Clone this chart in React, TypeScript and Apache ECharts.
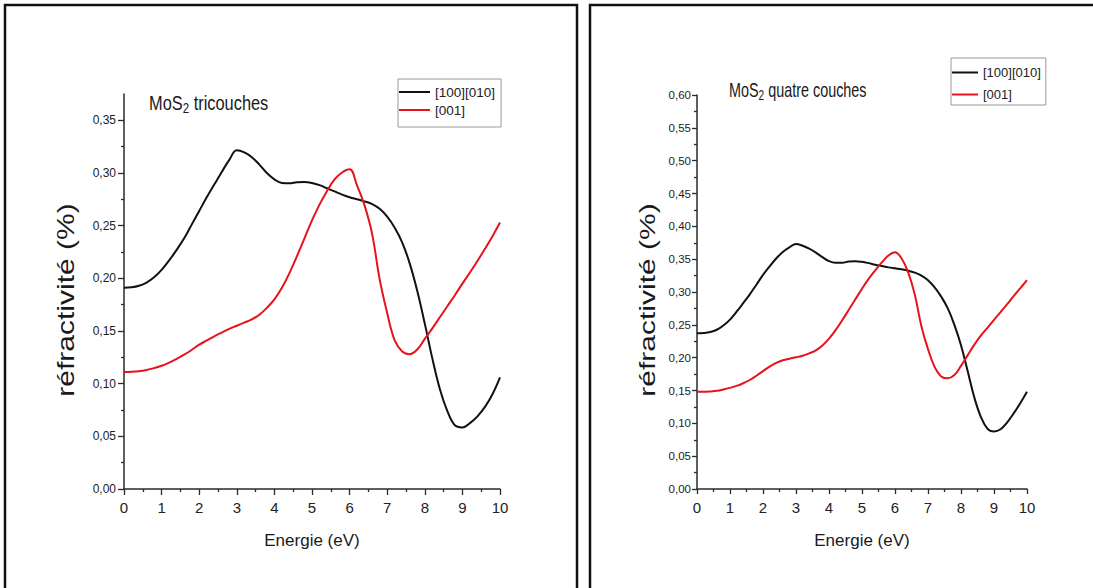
import React, { useEffect, useRef } from 'react';
import * as echarts from 'echarts';

// ---------- Energy grid (eV) at which the curves were read ----------
const energy = [0, 0.2, 0.4, 0.6, 0.8, 1, 1.2, 1.4, 1.6, 1.8, 2, 2.2, 2.4, 2.6, 2.8, 3, 3.2, 3.4, 3.6, 3.8, 4, 4.2, 4.4, 4.6, 4.8, 5, 5.2, 5.4, 5.6, 5.8, 6, 6.2, 6.4, 6.6, 6.8, 7, 7.2, 7.4, 7.6, 7.8, 8, 8.2, 8.4, 8.6, 8.8, 9, 9.2, 9.4, 9.6, 9.8, 10];

// ---------- MoS2 tricouches (left panel) ----------
const triBlack = [0.191, 0.1915, 0.193, 0.196, 0.201, 0.208, 0.217, 0.227, 0.238, 0.251, 0.264, 0.277, 0.289, 0.301, 0.3125, 0.3215, 0.3195, 0.315, 0.308, 0.3, 0.294, 0.2905, 0.2902, 0.2912, 0.2915, 0.2905, 0.2885, 0.2855, 0.2825, 0.2795, 0.277, 0.275, 0.273, 0.2705, 0.266, 0.2585, 0.248, 0.234, 0.214, 0.188, 0.157, 0.124, 0.095, 0.074, 0.0605, 0.0585, 0.0625, 0.069, 0.078, 0.09, 0.106];
const triRed = [0.111, 0.1112, 0.1118, 0.113, 0.1148, 0.117, 0.12, 0.1235, 0.1275, 0.132, 0.137, 0.141, 0.145, 0.1485, 0.152, 0.155, 0.158, 0.161, 0.1655, 0.172, 0.18, 0.191, 0.205, 0.221, 0.238, 0.255, 0.27, 0.283, 0.294, 0.3005, 0.3035, 0.288, 0.269, 0.242, 0.199, 0.167, 0.141, 0.1305, 0.128, 0.1325, 0.1425, 0.1525, 0.163, 0.1735, 0.184, 0.195, 0.2055, 0.2165, 0.228, 0.24, 0.253];

// ---------- MoS2 quatre couches (right panel) ----------
const quaBlack = [0.237, 0.2375, 0.239, 0.2425, 0.249, 0.258, 0.27, 0.283, 0.2965, 0.311, 0.326, 0.339, 0.351, 0.361, 0.368, 0.373, 0.3705, 0.366, 0.36, 0.353, 0.347, 0.3445, 0.3445, 0.3465, 0.347, 0.346, 0.344, 0.3415, 0.3395, 0.3375, 0.336, 0.3345, 0.3325, 0.3295, 0.325, 0.318, 0.307, 0.293, 0.275, 0.25, 0.219, 0.18, 0.14, 0.11, 0.092, 0.0875, 0.091, 0.1015, 0.1155, 0.131, 0.148];
const quaRed = [0.148, 0.148, 0.1485, 0.1495, 0.1515, 0.154, 0.157, 0.161, 0.166, 0.1725, 0.1795, 0.1865, 0.192, 0.196, 0.1985, 0.2005, 0.203, 0.2065, 0.211, 0.2185, 0.229, 0.242, 0.257, 0.273, 0.289, 0.305, 0.32, 0.333, 0.345, 0.3555, 0.3605, 0.351, 0.33, 0.296, 0.248, 0.213, 0.186, 0.1715, 0.1685, 0.1735, 0.1875, 0.2035, 0.2195, 0.2335, 0.2455, 0.2575, 0.2695, 0.2815, 0.294, 0.306, 0.318];

const seriesNames = ['[100][010]', '[001]'];
const leftMajorY = [0, 0.05, 0.1, 0.15, 0.2, 0.25, 0.3, 0.35];

const FONT = "'Liberation Sans', Arial, sans-serif";
const BLACK = '#111111';
const RED = '#e8121a';
const AXIS = '#2a2a2a';

const zip = (xs: number[], ys: number[]) => xs.map((x, i) => [x, ys[i]]);
const fmt = (v: number) => v.toFixed(2).replace('.', ',');

function xAxisCfg(gridIndex: number, tickLen: number) {
  return {
    gridIndex,
    type: 'value',
    min: 0,
    max: 10,
    interval: 1,
    axisLine: { show: true, onZero: false, lineStyle: { color: AXIS, width: 1.5 } },
    axisTick: { show: true, length: tickLen, lineStyle: { color: AXIS, width: 1.3 } },
    minorTick: { show: true, splitNumber: 2, length: 3, lineStyle: { color: AXIS, width: 1.3 } },
    axisLabel: { fontSize: 15, fontFamily: FONT, color: '#222', margin: 11 },
    splitLine: { show: false },
    name: 'Energie (eV)',
    nameLocation: 'middle',
    nameGap: 43,
    nameTextStyle: { fontSize: 17, color: '#1a1a1a', fontFamily: FONT },
  };
}

export default function App() {
  const ref = useRef<HTMLDivElement>(null);

  useEffect(() => {
    if (!ref.current) return;
    const chart = echarts.init(ref.current, undefined, { renderer: 'svg' });

    const lineSeries = (name: string, xi: number, data: number[][], color: string) => ({
      name,
      type: 'line',
      xAxisIndex: xi,
      yAxisIndex: xi,
      data,
      showSymbol: false,
      smooth: 0.4,
      lineStyle: { color, width: 2 },
      itemStyle: { color },
      emphasis: { disabled: true },
    });

    const legendCommon = {
      data: seriesNames,
      orient: 'vertical',
      icon: 'rect',
      itemHeight: 2,
      borderColor: '#9a9a9a',
      borderWidth: 1,
      selectedMode: false,
      backgroundColor: '#fff',
    };

    chart.setOption({
      animation: false,
      backgroundColor: '#ffffff',
      grid: [
        { left: 124, right: 1093 - 500, top: 94, bottom: 588 - 489 },
        { left: 697, right: 1093 - 1027, top: 95, bottom: 588 - 489 },
      ],
      xAxis: [xAxisCfg(0, 6), xAxisCfg(1, 5)],
      yAxis: [
        {
          gridIndex: 0,
          type: 'value',
          min: 0,
          max: 0.375,
          interval: 0.05,
          axisLine: { show: true, onZero: false, lineStyle: { color: AXIS, width: 1.5 } },
          axisTick: { show: true, length: 6, customValues: leftMajorY, lineStyle: { color: AXIS, width: 1.3 } },
          minorTick: { show: true, splitNumber: 2, length: 3, lineStyle: { color: AXIS, width: 1.3 } },
          axisLabel: { fontSize: 12, fontFamily: FONT, color: '#222', margin: 8, formatter: fmt, customValues: leftMajorY },
          splitLine: { show: false },
        },
        {
          gridIndex: 1,
          type: 'value',
          min: 0,
          max: 0.6,
          interval: 0.05,
          axisLine: { show: true, onZero: false, lineStyle: { color: AXIS, width: 1.5 } },
          axisTick: { show: true, length: 5, lineStyle: { color: AXIS, width: 1.3 } },
          minorTick: { show: true, splitNumber: 2, length: 3, lineStyle: { color: AXIS, width: 1.3 } },
          axisLabel: { fontSize: 11.5, fontFamily: FONT, color: '#222', margin: 6, formatter: fmt },
          splitLine: { show: false },
        },
      ],
      legend: [
        {
          ...legendCommon,
          left: 398,
          top: 79,
          itemWidth: 31,
          itemGap: 4,
          padding: [6, 6, 10, 1],
          textStyle: { fontSize: 13.5, color: '#222', fontFamily: FONT },
        },
        {
          ...legendCommon,
          left: 951,
          top: 58,
          itemWidth: 26,
          itemGap: 9,
          padding: [8, 5, 4, 1],
          textStyle: { fontSize: 13, color: '#222', fontFamily: FONT },
        },
      ],
      series: [
        lineSeries(seriesNames[0], 0, zip(energy, triBlack), BLACK),
        lineSeries(seriesNames[1], 0, zip(energy, triRed), RED),
        lineSeries(seriesNames[0], 1, zip(energy, quaBlack), BLACK),
        lineSeries(seriesNames[1], 1, zip(energy, quaRed), RED),
      ],
      graphic: [
        // panel frames
        { type: 'rect', shape: { x: 5, y: 5, width: 572, height: 600 }, style: { fill: 'none', stroke: '#111', lineWidth: 2.5 }, silent: true },
        { type: 'rect', shape: { x: 590, y: 5, width: 520, height: 600 }, style: { fill: 'none', stroke: '#111', lineWidth: 2.5 }, silent: true },
        // panel titles
        {
          type: 'text', x: 149, y: 103, scaleX: 0.82,
          style: {
            text: '{a|MoS}{b|2}{a| tricouches}', align: 'left', verticalAlign: 'middle',
            rich: {
              a: { fontSize: 20, fontFamily: FONT, fill: '#1a1a1a', lineHeight: 24 },
              b: { fontSize: 14, fontFamily: FONT, fill: '#1a1a1a', verticalAlign: 'bottom' },
            },
          },
        },
        {
          type: 'text', x: 729, y: 90, scaleX: 0.72,
          style: {
            text: '{a|MoS}{b|2}{a| quatre couches}', align: 'left', verticalAlign: 'middle',
            rich: {
              a: { fontSize: 20, fontFamily: FONT, fill: '#1a1a1a', lineHeight: 24 },
              b: { fontSize: 14, fontFamily: FONT, fill: '#1a1a1a', verticalAlign: 'bottom' },
            },
          },
        },
        // y axis titles
        {
          type: 'text', x: 66, y: 300, rotation: Math.PI / 2, scaleY: 0.8,
          style: { text: 'réfractivité (%)', fontSize: 30, fontFamily: FONT, fill: '#1a1a1a', align: 'center', verticalAlign: 'middle' },
        },
        {
          type: 'text', x: 647, y: 300, rotation: Math.PI / 2, scaleY: 0.74,
          style: { text: 'réfractivité (%)', fontSize: 30, fontFamily: FONT, fill: '#1a1a1a', align: 'center', verticalAlign: 'middle' },
        },
      ],
    });

    return () => chart.dispose();
  }, []);

  return (
    <div
      ref={ref}
      style={{ position: 'fixed', left: 0, top: 0, width: 1093, height: 588, background: '#fff' }}
    />
  );
}
